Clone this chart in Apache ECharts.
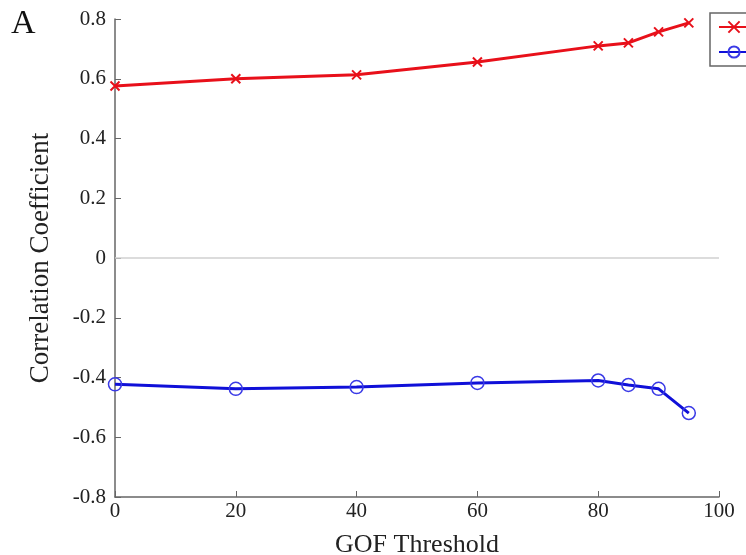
<!DOCTYPE html>
<html><head><meta charset="utf-8">
<script src="https://cdn.jsdelivr.net/npm/echarts@6/dist/echarts.min.js"></script>
<style>html,body{margin:0;padding:0;background:#fff}#c{width:746px;height:555px}</style>
</head><body><div id="c"></div>
<script>
const thresholds = [0, 20, 40, 60, 80, 85, 90, 95];
const positiveCorr = [0.576, 0.600, 0.613, 0.656, 0.710, 0.720, 0.757, 0.787];
const negativeCorr = [-0.423, -0.438, -0.432, -0.418, -0.410, -0.425, -0.438, -0.519];
const seriesNames = ['Positive', 'Negative'];
const xTicks = [0, 20, 40, 60, 80, 100];
const yTicks = [-0.8, -0.6, -0.4, -0.2, 0, 0.2, 0.4, 0.6, 0.8];

const font = 'Liberation Serif';
const chart = echarts.init(document.getElementById('c'));
chart.setOption({
  animation: false,
  backgroundColor: '#fff',
  textStyle: { fontFamily: font },
  graphic: [{ type: 'text', left: 11, top: 7, style: { text: 'A', font: '34px "Liberation Serif"', fill: '#111' } }],
  legend: {
    left: 710, top: 13, orient: 'vertical', padding: [6, 8], itemGap: 9,
    itemWidth: 30, itemHeight: 14, borderColor: '#666', borderWidth: 1.5,
    textStyle: { fontFamily: font, fontSize: 16, color: '#222' },
    data: seriesNames
  },
  grid: { left: 115, right: 27, top: 19, bottom: 58, outerBoundsMode: 'none', containLabel: false },
  xAxis: {
    type: 'value', min: 0, max: 100, interval: 20,
    name: 'GOF Threshold', nameLocation: 'middle', nameGap: 35,
    nameTextStyle: { fontFamily: font, fontSize: 26, color: '#222' },
    axisLine: { show: true, onZero: false, lineStyle: { color: '#666', width: 1.5 } },
    axisTick: { show: true, inside: true, length: 6, lineStyle: { color: '#666' } },
    axisLabel: { fontFamily: font, fontSize: 21, color: '#222', margin: 4,
      formatter: v => xTicks.includes(v) ? String(v) : '' },
    splitLine: { show: false }
  },
  yAxis: {
    type: 'value', min: -0.8, max: 0.8, interval: 0.2,
    name: 'Correlation Coefficient', nameLocation: 'middle', nameGap: 61,
    nameTextStyle: { fontFamily: font, fontSize: 27, color: '#222' },
    axisLine: { show: true, onZero: false, lineStyle: { color: '#666', width: 1.5 } },
    axisTick: { show: true, inside: true, length: 6, lineStyle: { color: '#666' } },
    axisLabel: { fontFamily: font, fontSize: 21, color: '#222', margin: 9,
      formatter: v => { const r = Math.round(v * 10) / 10; return yTicks.includes(r) ? String(r) : ''; } },
    splitLine: { show: false }
  },
  series: [
    {
      name: seriesNames[0], type: 'line',
      data: thresholds.map((x, i) => [x, positiveCorr[i]]),
      symbol: 'path://M0,0L10,10M10,0L0,10', symbolSize: 9,
      lineStyle: { color: '#e8101a', width: 3 },
      itemStyle: { color: '#e8101a', borderColor: '#e8101a', borderWidth: 2 },
      markLine: {
        silent: true, symbol: 'none', label: { show: false },
        lineStyle: { color: '#d0d0d0', type: 'solid', width: 1.5 },
        data: [{ yAxis: 0 }]
      },
      z: 3
    },
    {
      name: seriesNames[1], type: 'line',
      data: thresholds.map((x, i) => [x, negativeCorr[i]]),
      symbol: 'circle', symbolSize: 13,
      lineStyle: { color: '#1010d8', width: 3, type: 'solid' },
      itemStyle: { color: 'rgba(0,0,0,0)', borderColor: '#3a3ae6', borderWidth: 1.5 },
      z: 3
    }
  ]
});
</script></body></html>
